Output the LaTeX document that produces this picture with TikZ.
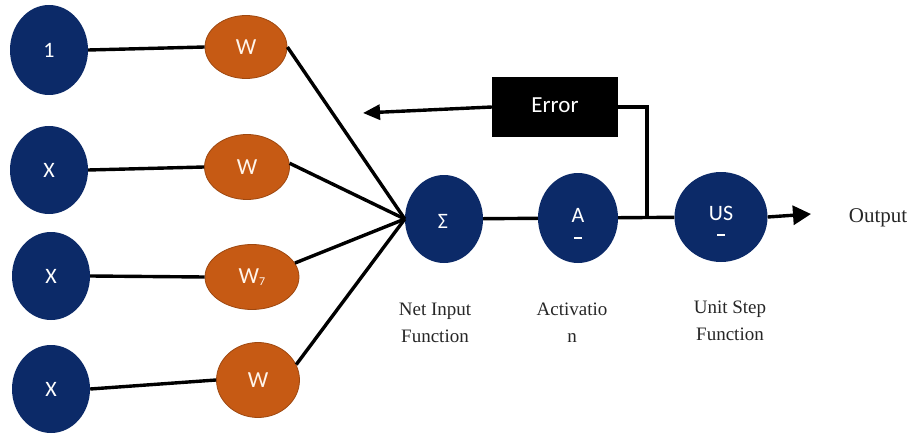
\documentclass[tikz,border=0pt]{standalone}
\usepackage{fontspec}
\setmainfont{Liberation Serif}
\newfontfamily\nodefont{Carlito}
\newfontfamily\capfont{Liberation Serif}
\usetikzlibrary{shapes.geometric,arrows.meta}
\definecolor{navy}{RGB}{12,42,104}
\definecolor{burnt}{RGB}{198,90,20}
\tikzset{
  unit/.style={ellipse, fill=navy, inner sep=0pt, text=white,
    font=\nodefont\fontsize{22}{22}\selectfont},
  weight/.style={ellipse, fill=burnt, draw=burnt!80!black, line width=0.8pt,
    inner sep=0pt, text=white!92!orange, font=\nodefont\fontsize{23}{23}\selectfont},
  unittext/.style={inner sep=0pt, text=white, font=\nodefont\fontsize{22}{22}\selectfont},
  wire/.style={line width=3.4pt, draw=black},
  caption/.style={font=\capfont\fontsize{19}{27}\selectfont, align=center, text=black!85},
  tip/.style={-{Triangle[length=17pt,width=15pt]}},
  bigtip/.style={-{Triangle[length=18pt,width=19pt]}}
}
\begin{document}
\begin{tikzpicture}[x=1pt,y=-1pt]
\useasboundingbox (0,0) rectangle (914,436);

% inputs
\node[unit, minimum width=78pt, minimum height=90pt] (in1) at (49,50) {1};
\node[unit, minimum width=78pt, minimum height=88pt] (in2) at (49,170) {X};
\node[unit, minimum width=78pt, minimum height=88pt] (in3) at (51,276) {X};
\node[unit, minimum width=78pt, minimum height=88pt] (in4) at (51,389) {X};

% weights
\node[weight, minimum width=82pt, minimum height=63pt] (w1) at (246,47) {W};
\node[weight, minimum width=85pt, minimum height=65pt] (w2) at (247,167) {W};
\node[weight, minimum width=94pt, minimum height=65pt] (w3) at (252,277) {W\raisebox{-2pt}{\fontsize{12}{12}\selectfont 7}};
\node[weight, minimum width=83pt, minimum height=75pt] (w4) at (258,380) {W};

% processing chain
\node[unit, minimum width=78pt, minimum height=88pt] (sum) at (444,219) {};
\node[unittext] (sumtxt) at (443,221) {Σ};
\node[unit, minimum width=80pt, minimum height=90pt] (act) at (578,218) {};
\node[unittext] (acttxt) at (578,215) {A};
\node[unittext] (actbar) at (578,238) {\rule{8pt}{2.6pt}};
\node[unit, minimum width=93pt, minimum height=90pt] (us) at (721,217) {};
\node[unittext] (ustxt) at (721,213) {US};
\node[unittext] (usbar) at (721,235) {\rule{8pt}{2.6pt}};

% error feedback box
\node[fill=black, minimum width=126pt, minimum height=59pt, inner sep=0pt,
      text=white, font=\nodefont\fontsize{23}{23}\selectfont] (err) at (555,107) {\raisebox{3pt}{Error}};

% captions
\node[caption] (capsum) at (435,323) {Net Input\\Function};
\node[caption] (capact) at (572,323) {Activatio\\n};
\node[caption] (capus) at (730,321) {Unit Step\\Function};
\node[font=\capfont\fontsize{21}{21}\selectfont, text=black!85] (out) at (878,218) {Output};

\coordinate (branch) at (647,216);
\coordinate (fb) at (363,113);
\coordinate (outtip) at (811,214);

% connections
\draw[wire] (in1.east) -- (w1.west);
\draw[wire] (in2.east) -- (w2.west);
\draw[wire] (in3.east) -- (w3.west);
\draw[wire] (in4.east) -- (w4.west);
\draw[wire] (w1.east) -- (sum.west);
\draw[wire] (w2.5) -- (sum.west);
\draw[wire] (w3.18) -- (sum.west);
\draw[wire] (w4.22) -- (sum.west);
\draw[wire] (sum) -- (act);
\draw[wire] (act) -- (us);
\draw[wire] (branch) |- (err.east);
\draw[wire, tip] (err.west) -- (fb);
\draw[wire, bigtip] (us.east) -- (outtip);
\end{tikzpicture}
\end{document}
